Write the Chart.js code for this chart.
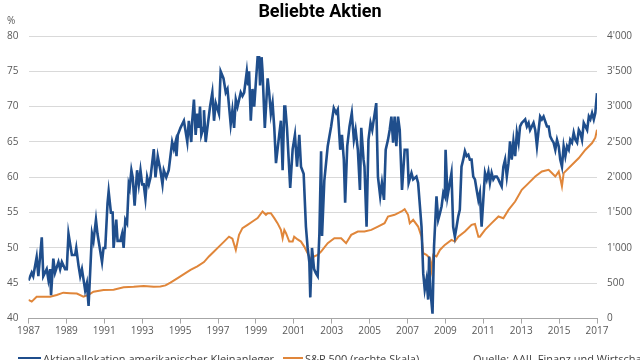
<!DOCTYPE html>
<html>
<head>
<meta charset="utf-8">
<script src="https://cdn.jsdelivr.net/npm/chart.js@4.4.1/dist/chart.umd.min.js"></script>
<style>
  body { margin: 0; background: #fff; }
  #wrap { position: relative; width: 640px; height: 360px; overflow: hidden; font-family: "Open Sans", sans-serif; }
  #title { position: absolute; left: 0; width: 640px; top: 0px; text-align: center; font: 700 18px Roboto, sans-serif; color: #000; }
  #pct { position: absolute; left: 7px; top: 13px; font-size: 10px; color: #595959; }
  .leg { position: absolute; top: 353px; font-size: 11px; line-height: 12px; color: #404040; white-space: nowrap; }
  .swatch { position: absolute; top: 357px; height: 2px; }
</style>
</head>
<body>
<div id="wrap">
  <canvas id="chart" width="640" height="360"></canvas>
  <div id="title">Beliebte Aktien</div>
  <div id="pct">%</div>
  <div class="swatch" style="left:18px;width:23px;background:#1f4e8c"></div>
  <div class="leg" style="left:43px">Aktienallokation amerikanischer Kleinanleger</div>
  <div class="swatch" style="left:283px;width:20px;background:#e0863a"></div>
  <div class="leg" style="left:305px">S&amp;P 500 (rechte Skala)</div>
  <div class="leg" style="left:473px">Quelle: AAII, Finanz und Wirtschaft</div>
</div>
<script>
// Aktienallokation (%), left scale
const allocYears = [
  1987.00,1987.17,1987.25,1987.43,1987.52,1987.70,1987.78,1987.96,1988.05,1988.14,1988.19,1988.31,1988.40,1988.58,1988.67,1988.76,1988.93,
  1989.02,1989.11,1989.29,1989.46,1989.52,1989.64,1989.73,1989.82,1989.99,1990.08,1990.17,1990.35,1990.43,1990.56,1990.64,1990.79,1990.88,1990.96,
  1991.05,1991.17,1991.23,1991.35,1991.44,1991.49,1991.63,1991.70,1991.85,1991.94,1992.02,1992.11,1992.20,1992.29,1992.34,1992.43,1992.50,1992.60,1992.73,1992.82,1992.91,
  1993.00,1993.08,1993.17,1993.26,1993.35,1993.44,1993.61,1993.70,1993.82,1993.96,1994.07,1994.14,1994.27,1994.40,1994.58,1994.67,1994.76,1994.81,1994.88,
  1995.02,1995.20,1995.38,1995.46,1995.59,1995.64,1995.73,1995.82,1995.91,1995.99,1996.05,1996.12,1996.23,1996.26,1996.35,1996.44,1996.58,1996.70,1996.79,1996.88,
  1997.05,1997.14,1997.29,1997.41,1997.50,1997.67,1997.76,1997.85,1997.94,1998.03,1998.20,1998.29,1998.38,1998.52,1998.59,1998.64,1998.73,1998.82,1998.91,
  1999.09,1999.17,1999.22,1999.30,1999.35,1999.47,1999.62,1999.70,1999.79,1999.88,1999.97,2000.06,2000.23,2000.32,2000.41,2000.50,2000.55,2000.64,2000.81,2000.94,
  2001.06,2001.17,2001.29,2001.38,2001.52,2001.64,2001.73,2001.82,2001.87,2001.96,2002.07,2002.17,2002.26,2002.35,2002.44,2002.49,2002.61,2002.79,2002.88,2002.97,
  2003.11,2003.23,2003.32,2003.45,2003.54,2003.64,2003.71,2003.82,2003.94,2004.06,2004.17,2004.26,2004.38,2004.49,2004.56,2004.68,2004.73,2004.84,2004.94,
  2005.05,2005.14,2005.35,2005.44,2005.56,2005.65,2005.76,2005.85,2005.97,2006.06,2006.15,2006.24,2006.32,2006.41,2006.50,2006.59,2006.71,2006.85,2006.99,
  2007.06,2007.21,2007.30,2007.47,2007.56,2007.74,2007.83,2007.91,2008.00,2008.09,2008.14,2008.21,2008.32,2008.40,2008.53,2008.62,2008.71,2008.80,2008.89,2008.97,
  2009.01,2009.11,2009.23,2009.32,2009.41,2009.50,2009.59,2009.68,2009.76,2009.85,2009.94,2010.03,2010.12,2010.21,2010.29,2010.38,2010.47,2010.56,2010.65,2010.74,2010.82,2010.91,
  2011.00,2011.09,2011.18,2011.27,2011.35,2011.44,2011.53,2011.62,2011.71,2011.80,2011.88,2011.97,2012.06,2012.15,2012.24,2012.33,2012.41,2012.50,2012.59,2012.68,2012.77,2012.86,2012.94,
  2013.03,2013.21,2013.30,2013.39,2013.47,2013.56,2013.65,2013.74,2013.83,2013.92,2014.00,2014.09,2014.18,2014.27,2014.36,2014.45,2014.53,2014.62,2014.71,2014.80,2014.89,2014.98,
  2015.06,2015.15,2015.24,2015.33,2015.42,2015.51,2015.59,2015.68,2015.77,2015.86,2015.95,2016.04,2016.12,2016.21,2016.30,2016.39,2016.48,2016.57,2016.65,2016.74,2016.83,2016.91,2017.00
];
const allocValues = [
  45.4,46.5,46,48.7,46,51.5,46,47,45.5,47,43.3,48.5,46.5,48,47,48,47,
  47,52,49,49,50,47.5,46,47,44,45,41.8,52,51,54,52,49.5,48,50,
  50,56.3,58,55,55,50,54,51,51,52,50,54,53.5,59,58.5,61,60,56,61,59,61,
  59,59,57,60,59,60,64,60,63,61,59,61,60,61,65,64,65,63,66,
  67,68,65,68,65,68,71,66,69,67,70,66,67,69.5,65,67,70,72,68,70.5,
  69,75,74,72,72.5,67.5,69.5,67,71,70,72,71.5,72,75,73,75,68,72.5,70,
  77,77,73,77,75,67,74,72,69,70.5,67,62,66,68,61,70,70,67,58.5,64,
  66,61.5,66,61.5,60.5,53,50,48,43,50,47,46.4,46,52,63.7,51.7,59.5,64.4,65.8,67.2,
  69.8,69.1,69.6,63.9,66,62.5,56.4,64.4,67.2,69.1,65.3,66.7,63.9,58.2,67,62.5,61.5,53,65.3,
  67.7,66.7,70.5,60.1,57.3,59.2,56.8,63.9,65.3,66.7,68.6,64.9,68.6,64.4,68.6,66.7,58.2,63.9,63.9,
  59.2,60.6,59.7,60.1,59.2,53,46.4,44.1,45.5,42.7,48.8,44,40.7,50.2,57.3,54,54.9,55.9,57.8,57.3,
  63.9,57.3,59.2,60.6,53,51.6,53,54.5,55.4,61.5,62.5,63.7,63,63.2,62.5,62.5,60.1,59.7,58.2,56.8,57.8,53,
  56.8,60.6,59.7,60.8,59.2,60.6,59.7,60.1,60.1,59.7,59.2,58.7,61.5,62.5,60.1,62,65.1,62.5,65.1,63,66.3,64.9,67.2,
  67.7,68.2,67.2,67.7,66.7,67.2,67.7,66.7,64.4,66.7,68.6,68.2,68.6,67.9,67.2,67.2,65.8,65.3,64.9,63.9,65.3,64.4,
  62.5,61.5,64.4,63,64.4,63.9,65.3,64.9,66.3,65.3,64.9,66.7,66.3,65.3,67.7,67.2,66.7,68.6,68.2,69.1,68.2,69.1,71.9
];

// S&P 500 (Punkte), right scale
const spYears = [
  1987.00,1987.17,1987.43,1988.14,1988.49,1988.84,1989.20,1989.55,1989.90,1990.17,1990.43,1990.96,1991.49,1992.02,1992.55,1993.08,1993.61,1993.96,
  1994.23,1994.49,1994.85,1995.20,1995.55,1995.91,1996.26,1996.52,1996.79,1997.05,1997.32,1997.58,1997.76,1997.94,1998.11,1998.29,1998.56,1998.82,
  1999.09,1999.35,1999.53,1999.62,1999.79,1999.97,2000.14,2000.32,2000.41,2000.50,2000.59,2000.76,2000.94,2001.02,2001.20,2001.38,2001.55,2001.73,2001.91,
  2002.08,2002.26,2002.44,2002.79,2003.14,2003.50,2003.76,2004.03,2004.38,2004.73,2005.09,2005.44,2005.79,2005.97,2006.32,2006.68,2006.85,
  2007.03,2007.12,2007.30,2007.56,2007.74,2007.83,2008.00,2008.18,2008.27,2008.36,2008.53,2008.71,2008.97,2009.32,2009.50,2009.68,
  2010.03,2010.38,2010.56,2010.74,2010.82,2011.09,2011.44,2011.80,2012.06,2012.33,2012.68,2013.03,2013.39,2013.74,2014.09,2014.45,2014.62,2014.80,2014.98,
  2015.06,2015.15,2015.24,2015.59,2016.04,2016.39,2016.74,2016.91,2017.00
];
const spValues = [
  264,240,310,310,335,367,360,355,310,335,381,405,410,444,450,462,450,455,
  470,510,570,630,690,740,800,880,950,1019,1090,1160,1130,972,1185,1280,1327,1374,
  1422,1516,1469,1492,1492,1422,1351,1256,1138,1256,1209,1090,1090,1160,1120,1090,1019,925,831,
  880,902,949,1067,1138,1138,1067,1185,1232,1232,1256,1303,1351,1445,1469,1516,1549,
  1469,1351,1398,1303,1160,925,902,855,689,902,880,972,1043,1114,1090,1160,
  1232,1327,1340,1160,1160,1256,1351,1445,1420,1539,1657,1823,1918,2011,2082,2106,2060,2011,2082,
  1989,1870,2059,2153,2272,2390,2485,2560,2673
];

const allocPoints = allocYears.map((x, i) => ({ x: x, y: allocValues[i] }));
const spPoints = spYears.map((x, i) => ({ x: x, y: spValues[i] }));

const tickFont = { family: "Open Sans", size: 10 };
const tickColor = "#595959";

function fixWidth(w) {
  return function (scale) { scale.width = w; };
}

new Chart(document.getElementById("chart"), {
  type: "line",
  data: {
    datasets: [
      {
        label: "Aktienallokation amerikanischer Kleinanleger",
        data: allocPoints,
        yAxisID: "y",
        borderColor: "#1f4e8c",
        borderWidth: 2.6,
        pointRadius: 0,
        tension: 0,
      },
      {
        label: "S&P 500 (rechte Skala)",
        data: spPoints,
        yAxisID: "y2",
        borderColor: "#e0863a",
        borderWidth: 2,
        pointRadius: 0,
        tension: 0,
      },
    ],
  },
  options: {
    responsive: false,
    animation: false,
    devicePixelRatio: 1,
    layout: { padding: { top: 36, bottom: 0, left: 0, right: 0 } },
    plugins: { legend: { display: false }, tooltip: { enabled: false }, title: { display: false } },
    scales: {
      x: {
        type: "linear",
        min: 1987,
        max: 2017,
        afterFit: function (scale) { scale.height = 41.4; },
        ticks: {
          stepSize: 2,
          color: tickColor,
          font: tickFont,
          padding: 2,
          maxRotation: 0,
          callback: (v) => String(v),
        },
        grid: { drawOnChartArea: false, drawTicks: true, tickLength: 5, color: "#a6a6a6" },
        border: { display: true, color: "#a6a6a6" },
      },
      y: {
        position: "left",
        min: 40,
        max: 80,
        afterFit: fixWidth(28.5),
        ticks: { stepSize: 5, color: tickColor, font: tickFont, padding: 10 },
        grid: { color: "#d9d9d9", drawTicks: false },
        border: { display: false },
      },
      y2: {
        position: "right",
        min: 0,
        max: 4000,
        afterFit: fixWidth(43),
        ticks: {
          stepSize: 500,
          color: tickColor,
          font: tickFont,
          padding: 10,
          callback: (v) => String(v).replace(/\B(?=(\d{3})+(?!\d))/g, "'"),
        },
        grid: { drawOnChartArea: false, drawTicks: false },
        border: { display: false },
      },
    },
  },
});
</script>
</body>
</html>
